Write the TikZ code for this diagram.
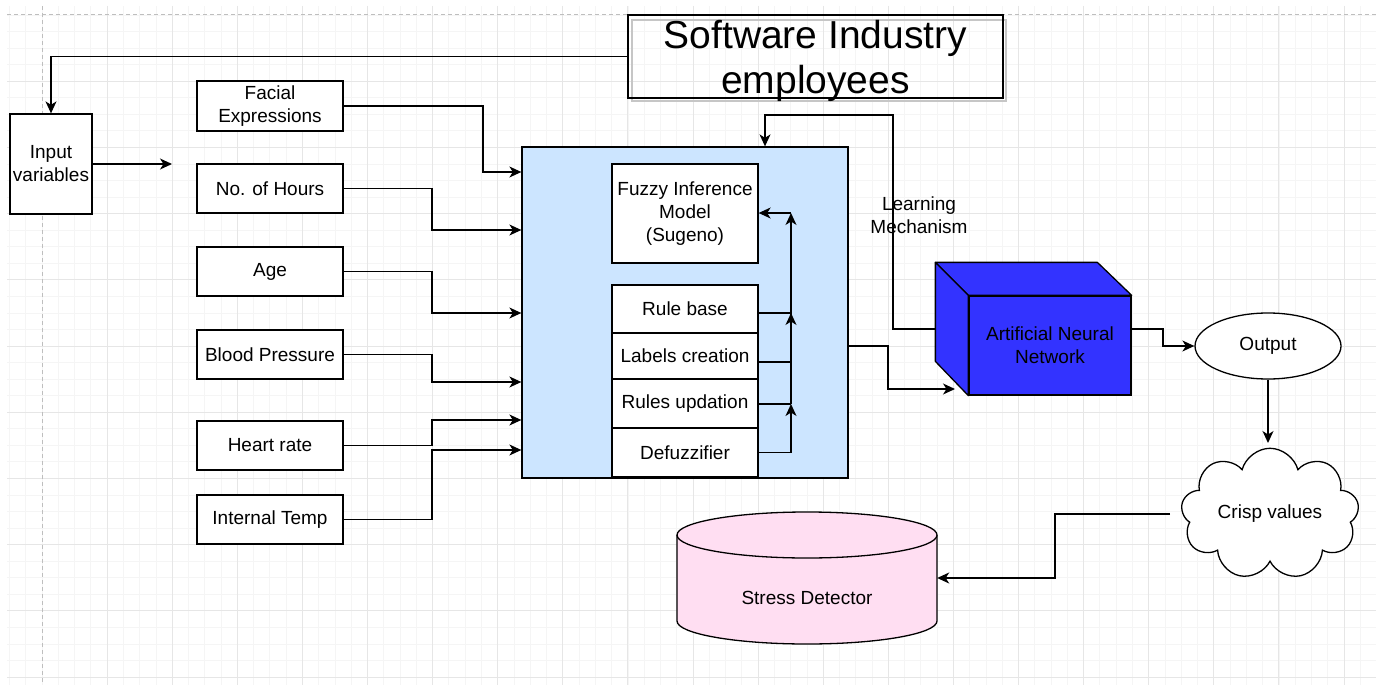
\documentclass[tikz,border=0pt]{standalone}
\usepackage{fontspec}
\setmainfont{Liberation Sans}
\usetikzlibrary{arrows.meta,shapes.geometric,shapes.symbols,calc}
\definecolor{blk}{RGB}{204,229,255}
\definecolor{annblue}{RGB}{51,51,255}
\definecolor{sdpink}{RGB}{255,222,242}
\definecolor{gmin}{RGB}{245,245,245}
\definecolor{gmaj}{RGB}{230,230,230}
\definecolor{gdash}{RGB}{190,190,190}
\begin{document}
\begin{tikzpicture}[x=1pt,y=-1pt,
  font=\fontsize{19}{23}\selectfont,
  box/.style={draw, line width=1.3pt, fill=white, inner sep=0pt, minimum width=146pt, align=center},
  arr/.style={line width=1.3pt, -{Stealth[length=12pt,width=11pt,inset=3.5pt]}},
  wire/.style={line width=1.3pt},
  gminor/.style={gmin, line width=0.8pt},
  gmajor/.style={gmaj, line width=1pt},
  gdashed/.style={gdash, line width=1pt, dash pattern=on 4pt off 3pt}]
\useasboundingbox (0,0) rectangle (1376,685);
% grid
\foreach \i in {-2,...,81} \draw[gminor] ({42+\i*16.275},6) -- ({42+\i*16.275},685);
\foreach \j in {0,...,40} \draw[gminor] (7,{15+\j*16.55}) -- (1376,{15+\j*16.55});
\foreach \k in {1,...,20} \draw[gmajor] ({42+\k*65.1},6) -- ({42+\k*65.1},685);
\foreach \k in {1,...,10} \draw[gmajor] (7,{15+\k*66.2}) -- (1376,{15+\k*66.2});
\draw[gdashed] (42,6) -- (42,685);
\draw[gdashed] (7,15) -- (1376,15);

% title
\draw[gray!45, line width=1.2pt] (632,20) rectangle (1006,101);
\node[draw, line width=1.3pt, minimum width=375pt, minimum height=83pt, inner sep=0pt] (title) at (815.5,56.5) {};
\node[align=center, inner sep=0pt, font=\fontsize{39}{45}\selectfont] (tt) at (815.5,60.5) {Software Industry\\employees};

% inputs
\node[box, minimum width=82pt, minimum height=100pt] (inp) at (51,164) {Input\\variables};
\node[box, minimum height=50pt] (fac) at (270,106) {Facial\\Expressions};
\node[box, minimum height=49pt] (hrs) at (270,188.5) {No. of Hours};
\node[box, minimum height=49pt] (age) at (270,271.5) {Age};
\node[box, minimum height=49pt] (bp) at (270,354.5) {Blood Pressure};
\node[box, minimum height=49pt] (hr) at (270,445.5) {Heart rate};
\node[box, minimum height=49pt] (it) at (270,519.5) {Internal Temp};

% main block
\node[draw, line width=1.3pt, fill=blk, minimum width=326pt, minimum height=331pt, inner sep=0pt] (blue) at (685,312.5) {};
\node[box, minimum height=99pt] (fim) at (685,213.5) {Fuzzy Inference\\Model\\(Sugeno)};
\node[box, minimum height=48pt] (rb) at (685,309) {Rule base};
\node[box, minimum height=46pt] (lc) at (685,356) {Labels creation};
\node[box, minimum height=49pt] (ru) at (685,403.5) {Rules updation};
\node[box, minimum height=49pt] (df) at (685,452.5) {Defuzzifier};

% internal bus
\coordinate (b1) at (791,213);
\coordinate (b2) at (791,313);
\coordinate (b3) at (791,404);
\draw[wire] (b3) -- (b2);
\draw[arr] (df.east) -| (b3);
\draw[wire] (ru.east |- b3) -- (b3);
\draw[arr] (lc.east |- 0,362) -| (b2);
\draw[wire] (rb.east |- b2) -- (b2);
\draw[arr] (b2) -- (b1);
\draw[arr] (b1) -- (fim.east |- b1);

% input connectors
\coordinate (inpend) at (172,164);
\draw[arr] (inp.east) -- (inpend);
\draw[arr] (title.west) -| (inp.north);
\draw[arr] (fac.east) -| (483,172) -- (blue.west |- 0,172);
\draw[arr] (hrs.east) -| (432,230) -- (blue.west |- 0,230);
\draw[arr] (age.east) -| (432,313) -- (blue.west |- 0,313);
\draw[arr] (bp.east) -| (432,382) -- (blue.west |- 0,382);
\draw[arr] (hr.east) -| (432,420) -- (blue.west |- 0,420);
\draw[arr] (it.east) -| (432,450) -- (blue.west |- 0,450);

% ANN cube
\node[draw, line width=1.3pt, fill=annblue, minimum width=162pt, minimum height=99pt, inner sep=0pt, align=center] (ann) at (1050,345.5) {Artificial Neural\\Network};
\filldraw[fill=annblue, line width=1.3pt, line join=round] (ann.north west) -- ++(-33,-33) -- ++(162,0) -- (ann.north east) -- cycle;
\filldraw[fill=annblue, line width=1.3pt, line join=round] (ann.north west) -- ++(-33,-33) -- ++(0,99) -- (ann.south west) -- cycle;
\coordinate (annL) at (936,329);
\coordinate (annLL) at (955,389);

\node[align=center] (lm) at (919,215) {Learning\\Mechanism};
\draw[arr] (annL) -| (893,115) -| (blue.north -| 765,0);
\draw[arr] (blue.east |- 0,346) -| (888,389) -- (annLL);

% output
\node[draw, ellipse, line width=1.3pt, fill=white, minimum width=146pt, minimum height=66pt, inner sep=0pt] (out) at (1268,346) {Output};
\draw[arr] (ann.east |- 0,329) -| (1163,346) -- (out.west);
\draw[arr] (out.south) -- (out.south |- 0,443);

% cloud
\node[draw, cloud, cloud puffs=9, aspect=1.5, line width=1.3pt, fill=white, minimum width=178pt, minimum height=115pt, inner sep=0pt] (cv) at (1270,514) {Crisp values};

% stress detector cylinder
\path[fill=sdpink, draw, line width=1.3pt] (677,535) -- (677,621) .. controls (677,633.7) and (735.2,644) .. (807,644) .. controls (878.8,644) and (937,633.7) .. (937,621) -- (937,535);
\filldraw[fill=sdpink, line width=1.3pt] (807,535) ellipse [x radius=130, y radius=23];
\node[minimum width=260pt, inner sep=0pt] (sd) at (807,598) {Stress Detector};
\draw[arr] ([xshift=-12pt]cv.west) -| (1055,578) -- (sd.east |- 0,578);
\end{tikzpicture}
\end{document}
